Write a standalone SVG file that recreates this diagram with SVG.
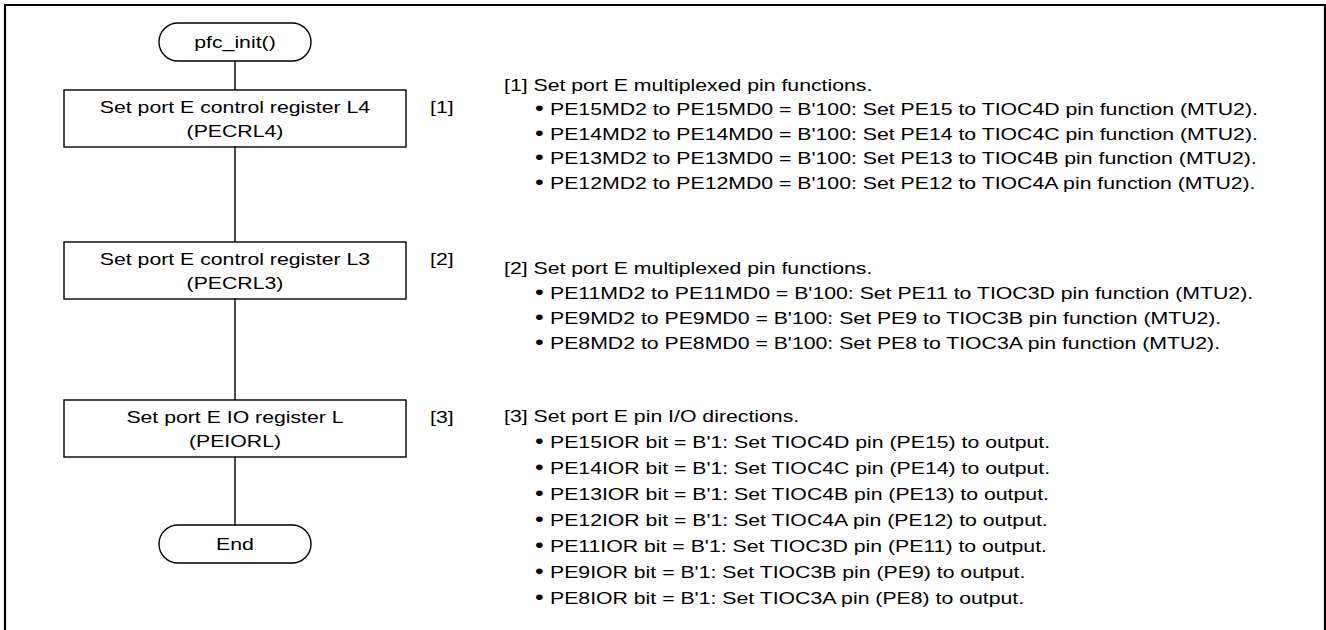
<svg xmlns="http://www.w3.org/2000/svg" width="1326" height="630" viewBox="0 0 1326 630">
<style>
text{font-family:"Liberation Sans",Arial,sans-serif;font-size:17px;fill:#000}
.c{text-anchor:middle}
.b{font-size:20px}
.shape{fill:#fff;stroke:#000;stroke-width:1.4}
.conn{stroke:#000;stroke-width:1.4;fill:none}
.frame{stroke:#000;stroke-width:2.2;fill:none}
</style>
<rect width="1326" height="630" fill="#fff"/>
<path class="frame" d="M5,630 V5 H1325 V630"/>
<g id="connectors">
<line class="conn" x1="235" y1="61" x2="235" y2="90"/>
<line class="conn" x1="235" y1="147" x2="235" y2="242"/>
<line class="conn" x1="235" y1="299" x2="235" y2="400"/>
<line class="conn" x1="235" y1="457" x2="235" y2="525"/>
</g>
<g id="start">
<rect class="shape" x="159" y="23" width="152" height="38" rx="19"/>
<text class="c" transform="scale(1.25,1)" x="188" y="48">pfc_init()</text>
</g>
<g id="step1">
<rect class="shape" x="64" y="90" width="342" height="57"/>
<g transform="scale(1.25,1)">
<text class="c" x="188" y="113">Set port E control register L4</text>
<text class="c" x="188" y="137">(PECRL4)</text>
<text x="344" y="113">[1]</text>
</g>
</g>
<g id="step2">
<rect class="shape" x="64" y="242" width="342" height="57"/>
<g transform="scale(1.25,1)">
<text class="c" x="188" y="265">Set port E control register L3</text>
<text class="c" x="188" y="289">(PECRL3)</text>
<text x="344" y="265">[2]</text>
</g>
</g>
<g id="step3">
<rect class="shape" x="64" y="400" width="342" height="57"/>
<g transform="scale(1.25,1)">
<text class="c" x="188" y="423">Set port E IO register L</text>
<text class="c" x="188" y="447">(PEIORL)</text>
<text x="344" y="423">[3]</text>
</g>
</g>
<g id="end">
<rect class="shape" x="159" y="525" width="152" height="38" rx="19"/>
<text class="c" transform="scale(1.25,1)" x="188" y="550">End</text>
</g>
<g id="note1" transform="scale(1.25,1)">
<text x="403.2" y="91">[1] Set port E multiplexed pin functions.</text>
<text x="428" y="115.5"><tspan class="b">•</tspan><tspan x="440">PE15MD2 to PE15MD0 = B'100: Set PE15 to TIOC4D pin function (MTU2).</tspan></text>
<text x="428" y="140"><tspan class="b">•</tspan><tspan x="440">PE14MD2 to PE14MD0 = B'100: Set PE14 to TIOC4C pin function (MTU2).</tspan></text>
<text x="428" y="164.5"><tspan class="b">•</tspan><tspan x="440">PE13MD2 to PE13MD0 = B'100: Set PE13 to TIOC4B pin function (MTU2).</tspan></text>
<text x="428" y="189"><tspan class="b">•</tspan><tspan x="440">PE12MD2 to PE12MD0 = B'100: Set PE12 to TIOC4A pin function (MTU2).</tspan></text>
</g>
<g id="note2" transform="scale(1.25,1)">
<text x="403.2" y="274">[2] Set port E multiplexed pin functions.</text>
<text x="428" y="299"><tspan class="b">•</tspan><tspan x="440">PE11MD2 to PE11MD0 = B'100: Set PE11 to TIOC3D pin function (MTU2).</tspan></text>
<text x="428" y="324"><tspan class="b">•</tspan><tspan x="440">PE9MD2 to PE9MD0 = B'100: Set PE9 to TIOC3B pin function (MTU2).</tspan></text>
<text x="428" y="349"><tspan class="b">•</tspan><tspan x="440">PE8MD2 to PE8MD0 = B'100: Set PE8 to TIOC3A pin function (MTU2).</tspan></text>
</g>
<g id="note3" transform="scale(1.25,1)">
<text x="403.2" y="422">[3] Set port E pin I/O directions.</text>
<text x="428" y="448"><tspan class="b">•</tspan><tspan x="440">PE15IOR bit = B'1: Set TIOC4D pin (PE15) to output.</tspan></text>
<text x="428" y="474"><tspan class="b">•</tspan><tspan x="440">PE14IOR bit = B'1: Set TIOC4C pin (PE14) to output.</tspan></text>
<text x="428" y="500"><tspan class="b">•</tspan><tspan x="440">PE13IOR bit = B'1: Set TIOC4B pin (PE13) to output.</tspan></text>
<text x="428" y="526"><tspan class="b">•</tspan><tspan x="440">PE12IOR bit = B'1: Set TIOC4A pin (PE12) to output.</tspan></text>
<text x="428" y="552"><tspan class="b">•</tspan><tspan x="440">PE11IOR bit = B'1: Set TIOC3D pin (PE11) to output.</tspan></text>
<text x="428" y="578"><tspan class="b">•</tspan><tspan x="440">PE9IOR bit = B'1: Set TIOC3B pin (PE9) to output.</tspan></text>
<text x="428" y="604"><tspan class="b">•</tspan><tspan x="440">PE8IOR bit = B'1: Set TIOC3A pin (PE8) to output.</tspan></text>
</g>
</svg>
